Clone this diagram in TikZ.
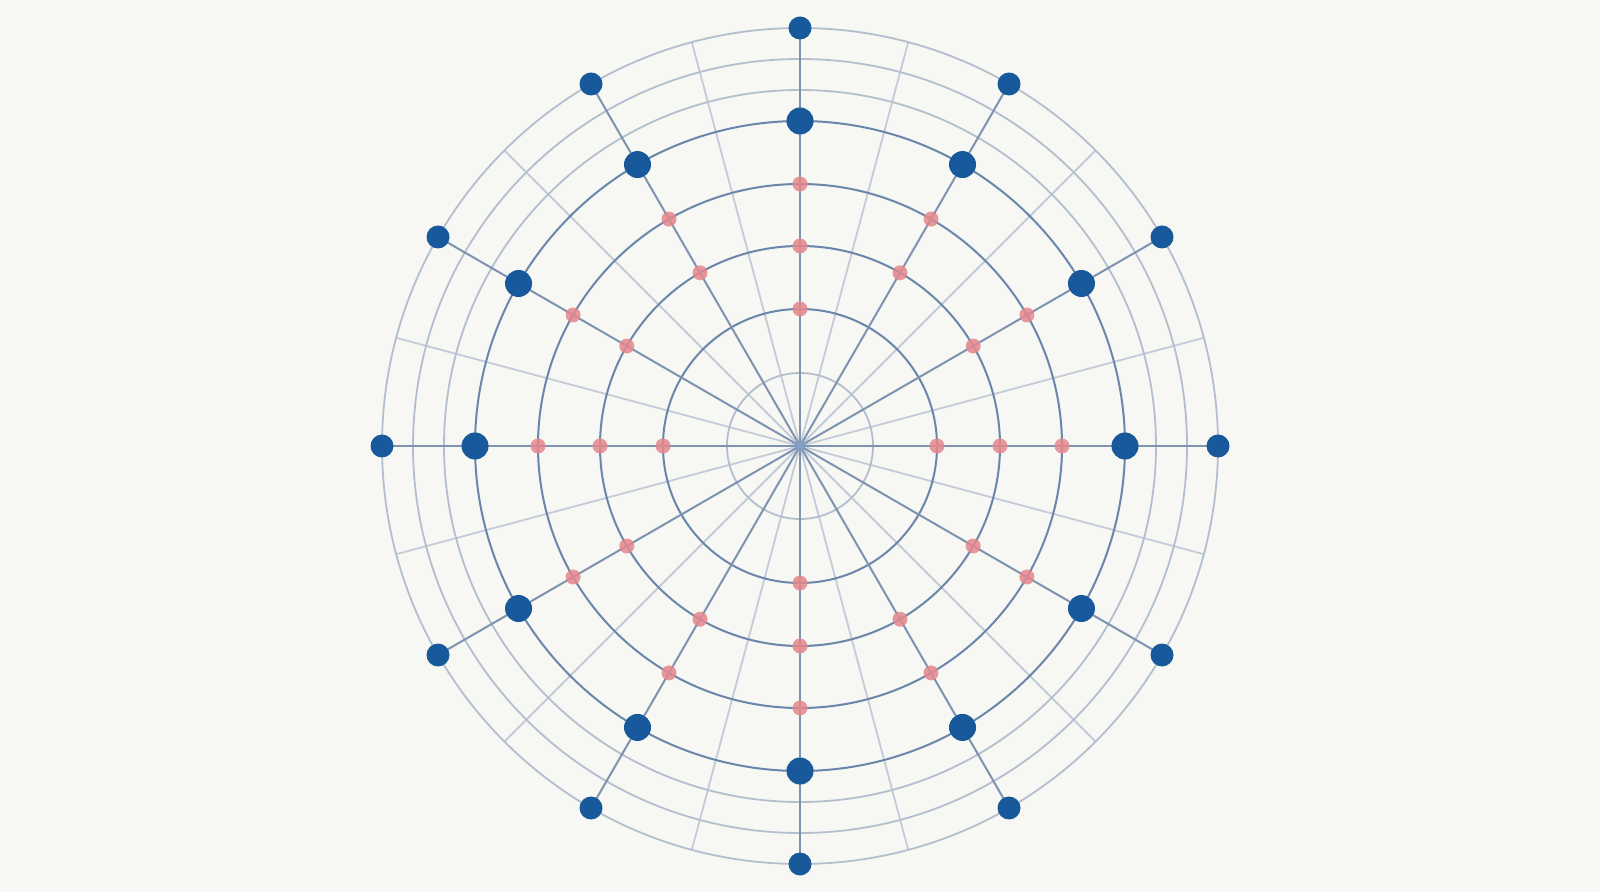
\documentclass[tikz,border=0pt]{standalone}
\usetikzlibrary{calc}
\definecolor{bgc}{HTML}{F7F7F3}
\definecolor{bluenode}{HTML}{17599A}
\definecolor{rednode}{HTML}{E5878C}
\definecolor{darkring}{HTML}{6A86AA}
\definecolor{lightring}{HTML}{B3BFCE}
\definecolor{spoke}{HTML}{7E93B0}
\definecolor{lightray}{HTML}{C3CCD8}
\definecolor{centerc}{HTML}{7FA0CC}
\pgfdeclarelayer{bglayer}
\pgfdeclarelayer{linelayer}
\pgfsetlayers{bglayer,linelayer,main}
\tikzset{
  bignode/.style={circle,fill=bluenode,minimum size=27pt,inner sep=0pt},
  outernode/.style={circle,fill=bluenode,minimum size=23pt,inner sep=0pt},
  rednd/.style={circle,fill=rednode,fill opacity=0.85,minimum size=15pt,inner sep=0pt},
  centerdot/.style={circle,fill=centerc,minimum size=8pt,inner sep=0pt},
  darkringline/.style={draw=darkring,line width=2pt},
  lightringline/.style={draw=lightring,line width=1.8pt},
  spokeline/.style={draw=spoke,line width=2pt},
  lightrayline/.style={draw=lightray,line width=1.8pt},
}
\begin{document}
\begin{tikzpicture}[x=1pt,y=1pt]
\begin{pgfonlayer}{bglayer}
  \fill[bgc] (0,0) rectangle (1600,892);
\end{pgfonlayer}
\useasboundingbox (0,0) rectangle (1600,892);
\node[centerdot] (C) at (800,446) {};
% blue nodes
\foreach \i in {0,...,11}{
  \pgfmathsetmacro{\ang}{30*\i}
  \node[bignode] (B\i) at ($(800,446)+(\ang:325)$) {};
  \node[outernode] (O\i) at ($(800,446)+(\ang:418)$) {};
  \pgfmathsetmacro{\lang}{30*\i+15}
  \coordinate (L\i) at ($(800,446)+(\lang:418)$);
}
% red nodes on diagonals
\foreach \i in {1,2,4,5,7,8,10,11}{
  \pgfmathsetmacro{\ang}{30*\i}
  \node[rednd] (R\i b) at ($(800,446)+(\ang:200)$) {};
  \node[rednd] (R\i c) at ($(800,446)+(\ang:262)$) {};
}
% red nodes on axes
\foreach \i in {0,3,6,9}{
  \pgfmathsetmacro{\ang}{30*\i}
  \node[rednd] (R\i a) at ($(800,446)+(\ang:137)$) {};
  \node[rednd] (R\i b) at ($(800,446)+(\ang:200)$) {};
  \node[rednd] (R\i c) at ($(800,446)+(\ang:262)$) {};
}
\begin{pgfonlayer}{linelayer}
  \foreach \i in {0,...,11}{
    \draw[lightrayline] (C.center) -- (L\i);
  }
  \foreach \r in {356,387,418}{
    \draw[lightringline] (C.center) circle[radius=\r];
  }
  \draw[lightringline] (C.center) circle[radius=73];
  \foreach \r in {137,200,262,325}{
    \draw[darkringline] (C.center) circle[radius=\r];
  }
  \foreach \i in {0,...,11}{
    \draw[spokeline] (C.center) -- (B\i.center) -- (O\i.center);
  }
\end{pgfonlayer}
\end{tikzpicture}
\end{document}
